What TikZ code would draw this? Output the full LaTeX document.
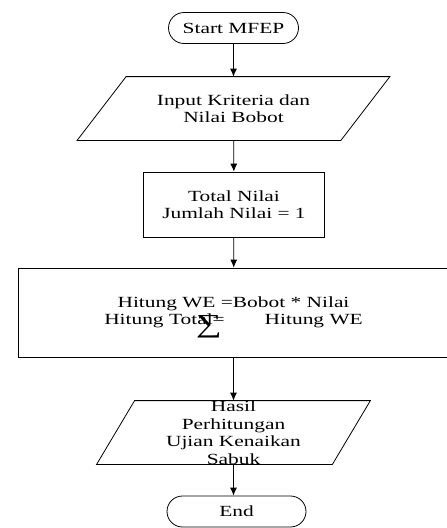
\documentclass[tikz,border=0pt]{standalone}
\usepackage{fontspec}
\setmainfont[FakeStretch=1.38]{Liberation Serif}
\usetikzlibrary{arrows.meta}

\begin{document}
\begin{tikzpicture}[x=1pt,y=-1pt,
		every node/.style={font=\fontsize{15.5}{17.5}\selectfont, align=center, line width=0.8pt},
		terminal/.style={draw, rounded corners=15.5pt, minimum height=31pt, inner sep=0pt},
		io/.style={rectangle, minimum height=63pt, inner sep=0pt},
		process/.style={draw, rectangle, inner sep=0pt},
		arrow/.style={-{Latex[length=8pt,width=7pt]}, line width=0.8pt}]
		\useasboundingbox (0,0) rectangle (447,528);
		% Draw the flow boxes
		\node[terminal, minimum width=130pt] (start) at (233.5,28) {Start MFEP};
		\node[io, minimum width=263pt] (input) at (233.5,108.5) {Input Kriteria dan\\Nilai Bobot};
		\draw[line width=0.8pt] ([xshift=24.5pt]input.north west) -- ([xshift=24.5pt]input.north east)
			-- ([xshift=-24.5pt]input.south east) -- ([xshift=-24.5pt]input.south west) -- cycle;
		\node[process, minimum width=181pt, minimum height=65pt] (total) at (234,204.5) {Total Nilai\\Jumlah Nilai = 1};
		\node[process, minimum width=431pt, minimum height=89pt] (hitung) at (233.5,312.5) {Hitung WE =Bobot * Nilai\\Hitung Total=\hspace{40pt}Hitung WE};
		\node (sigma) at (209,327) {\fontsize{26}{26}\selectfont ∑};
		\node[io, minimum width=235pt,
			label={[align=center]center:Hasil\\Perhitungan\\Ujian Kenaikan\\Sabuk}] (output) at (233.5,432.5) {};
		\draw[line width=0.8pt] ([xshift=19pt]output.north west) -- ([xshift=19pt]output.north east)
			-- ([xshift=-19pt]output.south east) -- ([xshift=-19pt]output.south west) -- cycle;
		\node[terminal, minimum width=139pt] (end) at (236.5,511.5) {End};
		% Draw the arrows
		\draw[arrow] (start) -- (input);
		\draw[arrow] (input) -- (total);
		\draw[arrow] (total) -- (hitung);
		\draw[arrow] (hitung) -- (output);
		\draw[arrow] (output) -- (output |- end.north);
	\end{tikzpicture}
\end{document}
